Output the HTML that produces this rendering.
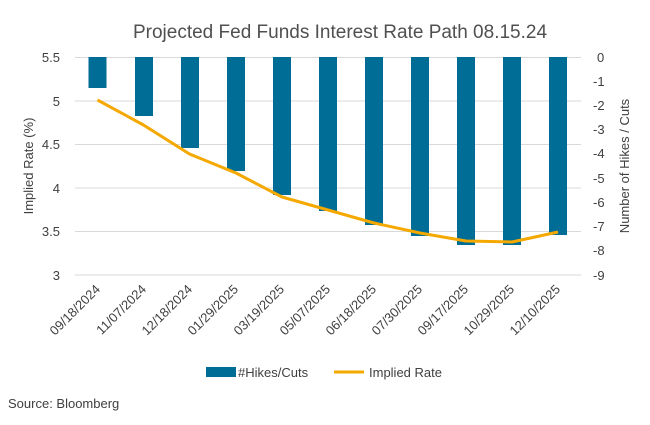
<!DOCTYPE html>
<html><head><style>body{margin:0;background:#fff}</style></head><body>
<svg width="650" height="420" xmlns="http://www.w3.org/2000/svg" font-family="Liberation Sans, sans-serif" fill="#404040">
<text x="340" y="38" font-size="19" text-anchor="middle" fill="#505050">Projected Fed Funds Interest Rate Path 08.15.24</text>
<g stroke="#d9d9d9" stroke-width="1">
<line x1="75" x2="581" y1="57.5" y2="57.5"/><line x1="75" x2="581" y1="101" y2="101"/><line x1="75" x2="581" y1="144.5" y2="144.5"/><line x1="75" x2="581" y1="188" y2="188"/><line x1="75" x2="581" y1="231.5" y2="231.5"/><line x1="75" x2="581" y1="275" y2="275"/>
</g>
<g font-size="13" text-anchor="end">
<text x="60" y="62">5.5</text><text x="60" y="106">5</text><text x="60" y="149">4.5</text><text x="60" y="193">4</text><text x="60" y="236">3.5</text><text x="60" y="280">3</text>
</g>
<g font-size="13">
<text x="597" y="62">0</text><text x="593" y="86">-1</text><text x="593" y="110">-2</text><text x="593" y="134">-3</text><text x="593" y="158">-4</text><text x="593" y="183">-5</text><text x="593" y="207">-6</text><text x="593" y="231">-7</text><text x="593" y="255">-8</text><text x="593" y="280">-9</text>
</g>
<text transform="translate(33,166) rotate(-90)" font-size="13" text-anchor="middle">Implied Rate (%)</text>
<text transform="translate(629,166) rotate(-90)" font-size="13" text-anchor="middle">Number of Hikes / Cuts</text>
<g fill="#006d96">
<rect x="88.5" y="57" width="18" height="31"/><rect x="135" y="57" width="18" height="59"/><rect x="181" y="57" width="18" height="91"/><rect x="227" y="57" width="18" height="114"/><rect x="273" y="57" width="18" height="138"/><rect x="319" y="57" width="18" height="154"/><rect x="365" y="57" width="18" height="168"/><rect x="411" y="57" width="18" height="179"/><rect x="457" y="57" width="18" height="188"/><rect x="503" y="57" width="18" height="188"/><rect x="549" y="57" width="18" height="178"/>
</g>
<polyline fill="none" stroke="#f5a800" stroke-width="3" stroke-linejoin="round" points="97.5,100 143.5,125 189.5,154 236,173 282,197 328,210 374,223 420,233 466,241 512,242 558,232"/>
<g font-size="13" text-anchor="end">
<text transform="translate(101,290) rotate(-45)">09/18/2024</text>
<text transform="translate(147,290) rotate(-45)">11/07/2024</text>
<text transform="translate(193,290) rotate(-45)">12/18/2024</text>
<text transform="translate(239,290) rotate(-45)">01/29/2025</text>
<text transform="translate(285,290) rotate(-45)">03/19/2025</text>
<text transform="translate(331,290) rotate(-45)">05/07/2025</text>
<text transform="translate(377,290) rotate(-45)">06/18/2025</text>
<text transform="translate(423,290) rotate(-45)">07/30/2025</text>
<text transform="translate(469,290) rotate(-45)">09/17/2025</text>
<text transform="translate(515,290) rotate(-45)">10/29/2025</text>
<text transform="translate(561,290) rotate(-45)">12/10/2025</text>
</g>
<rect x="206" y="367" width="30" height="10" fill="#006d96"/>
<text x="238" y="377" font-size="13">#Hikes/Cuts</text>
<line x1="334" x2="364" y1="372" y2="372" stroke="#f5a800" stroke-width="3"/>
<text x="369" y="377" font-size="13">Implied Rate</text>
<text x="8" y="408" font-size="13">Source: Bloomberg</text>
</svg>
</body></html>
